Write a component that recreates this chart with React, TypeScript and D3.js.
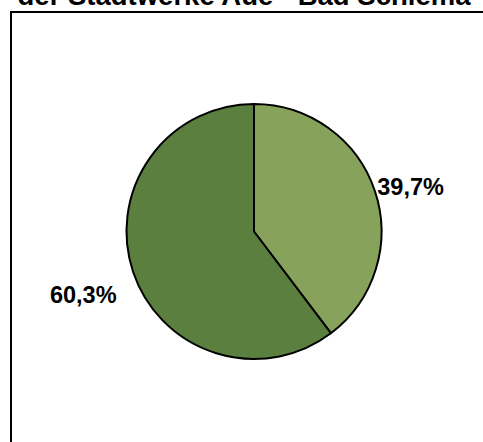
import React from "react";
import * as d3 from "d3";

const title = "der Stadtwerke Aue - Bad Schlema";
const categories = ["A", "B"];
const values = [39.7, 60.3];
const labels = ["39,7%", "60,3%"];
const colors = ["#87A35B", "#5B7F3F"];

const W = 483;
const H = 442;
const cx = 254;
const cy = 231.5;
const r = 127.5;
// label placement tweaks (radius, dx, dy)
const labelTweaks = [
  { rad: 130, dx: 0, dy: -1 },
  { rad: 145, dx: 0, dy: 19 },
];

export default function App() {
  const pie = d3
    .pie<number>()
    .sort(null)
    .value((d) => d)
    .startAngle(0)
    .endAngle(2 * Math.PI);
  const arcs = pie(values);
  const arcGen = d3.arc<d3.PieArcDatum<number>>().innerRadius(0).outerRadius(r);

  return (
    <svg
      width={W}
      height={H}
      style={{ position: "absolute", left: 0, top: 0, background: "#fff" }}
    >
      <rect x={0} y={0} width={W} height={H} fill="#fff" />
      <text
        x={244}
        y={5}
        textAnchor="middle"
        fontFamily="Liberation Sans, Arial, sans-serif"
        fontWeight="bold"
        fontSize={27.5}
        fill="#000"
      >
        {title}
      </text>
      <path
        d={`M11,${H + 5} L11,12 L${W + 5},12`}
        fill="none"
        stroke="#000"
        strokeWidth={2}
      />
      <g transform={`translate(${cx},${cy})`}>
        {arcs.map((a, i) => (
          <path
            key={categories[i]}
            d={arcGen(a) || ""}
            fill={colors[i]}
            stroke="#000"
            strokeWidth={2}
            strokeLinejoin="round"
          />
        ))}
        {arcs.map((a, i) => {
          const mid = (a.startAngle + a.endAngle) / 2;
          const t = labelTweaks[i];
          const x = Math.sin(mid) * t.rad + t.dx;
          const y = -Math.cos(mid) * t.rad + t.dy;
          return (
            <text
              key={"l" + i}
              x={x}
              y={y}
              textAnchor={Math.sin(mid) >= 0 ? "start" : "end"}
              dominantBaseline="middle"
              fontFamily="Liberation Sans, Arial, sans-serif"
              fontWeight="bold"
              fontSize={23.5}
              fill="#000"
            >
              {labels[i]}
            </text>
          );
        })}
      </g>
    </svg>
  );
}
